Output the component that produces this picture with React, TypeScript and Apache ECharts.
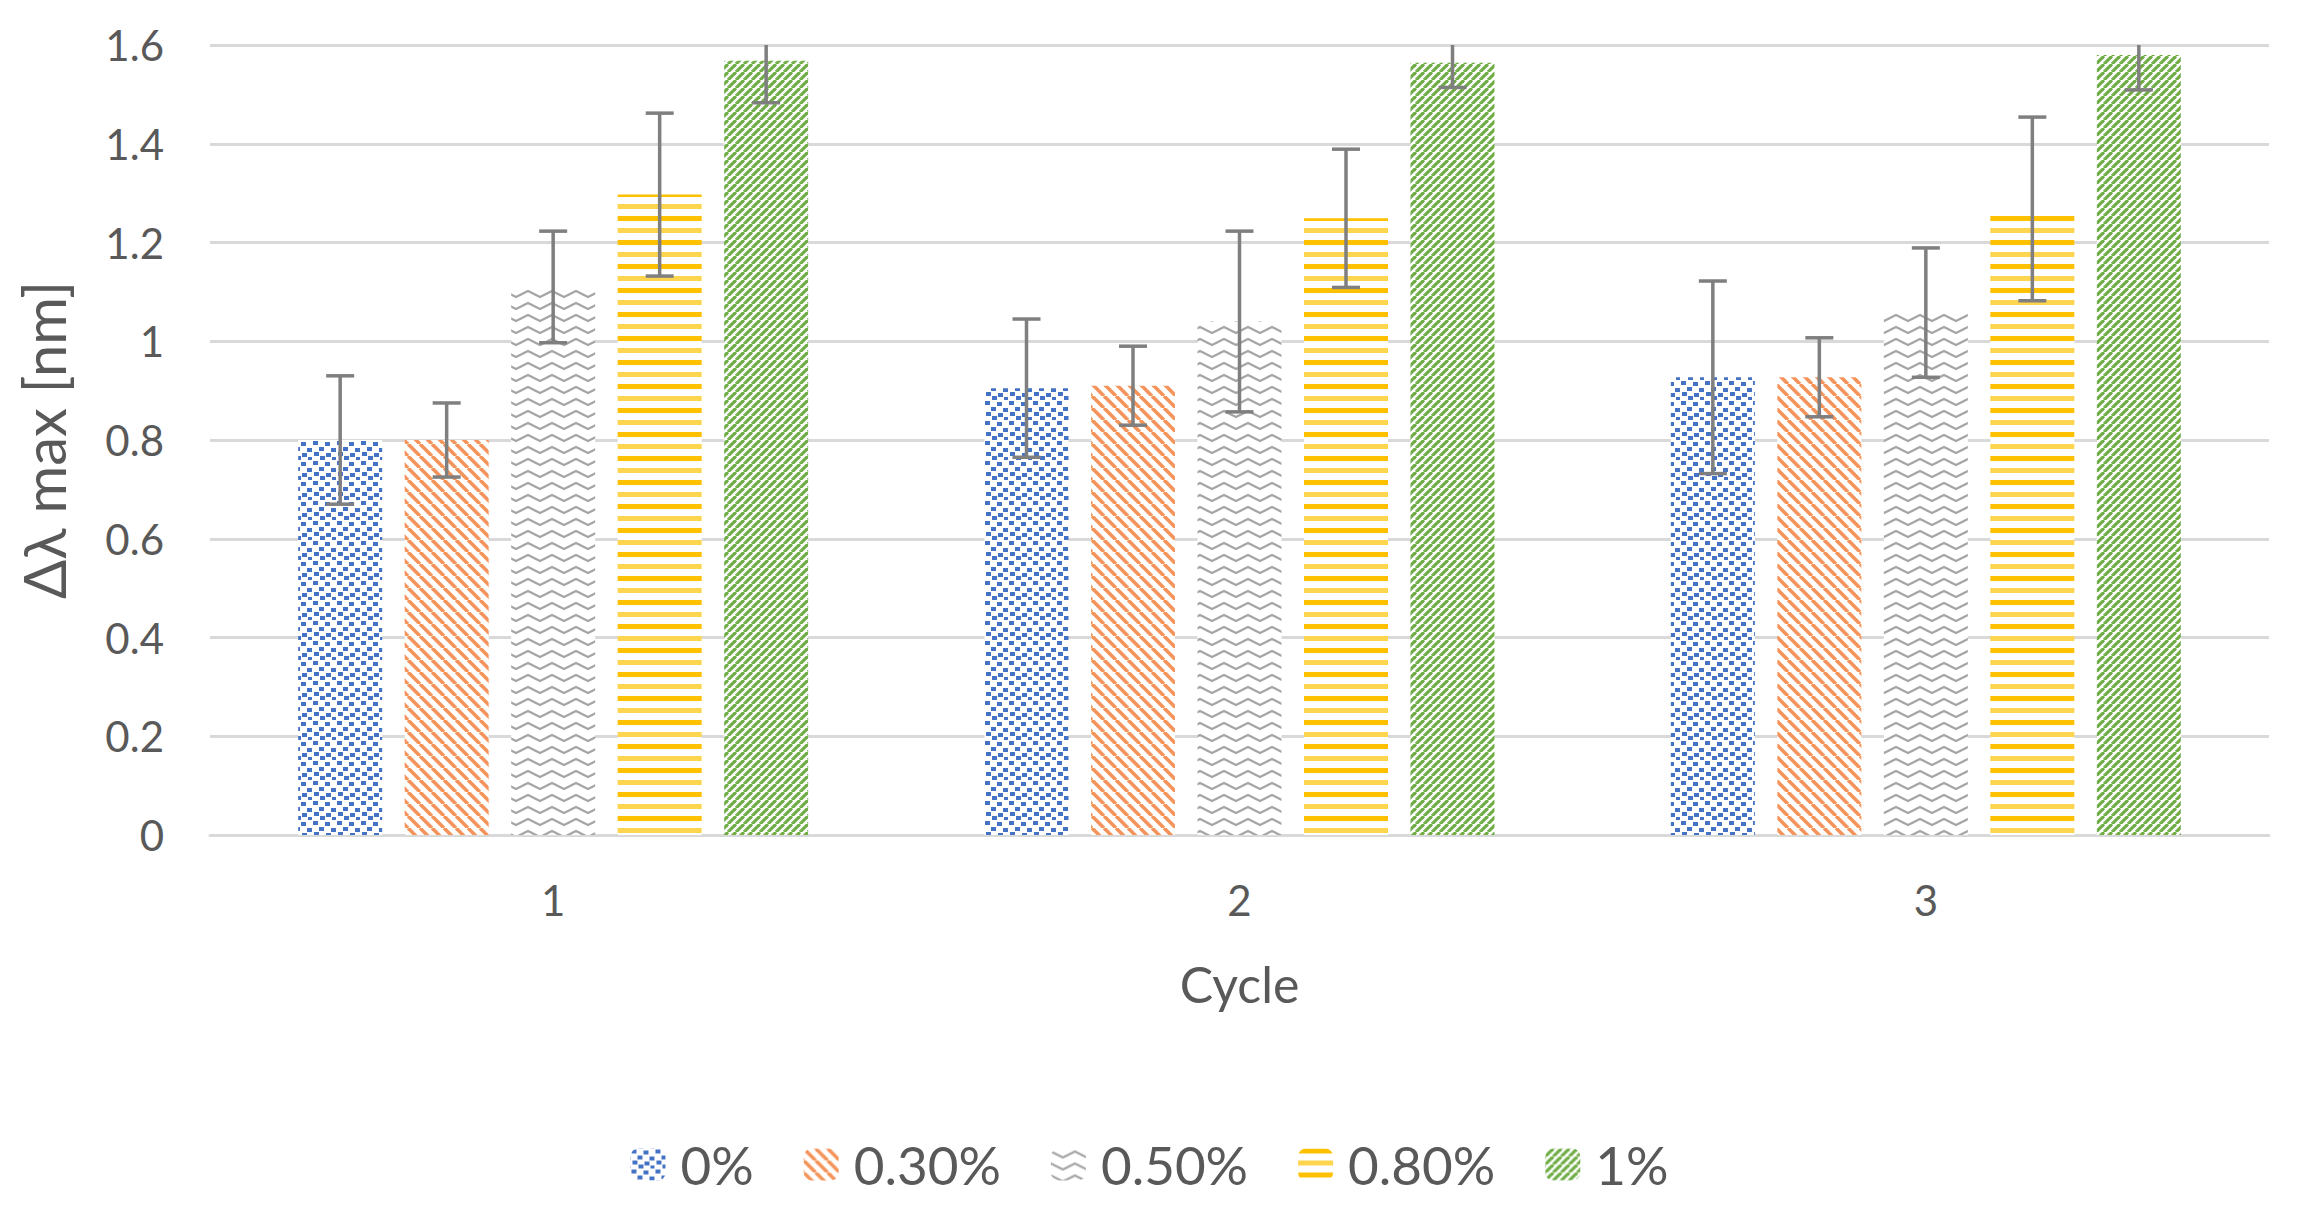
import React, { useEffect, useRef } from "react";
import * as echarts from "echarts";

const categories = ["1", "2", "3"];
const seriesNames = ["0%", "0.30%", "0.50%", "0.80%", "1%"];

const values0 = [0.8, 0.905, 0.927];
const values030 = [0.8, 0.91, 0.927];
const values050 = [1.11, 1.04, 1.058];
const values080 = [1.297, 1.249, 1.268];
const values1 = [1.568, 1.564, 1.58];

const errors0 = [0.13, 0.14, 0.195];
const errors030 = [0.075, 0.08, 0.08];
const errors050 = [0.113, 0.183, 0.131];
const errors080 = [0.165, 0.14, 0.186];
const errors1 = [0.085, 0.05, 0.071];

const Y_MIN = 0;
const Y_MAX = 1.6;
const Y_INTERVAL = 0.2;

const allValues = [values0, values030, values050, values080, values1];
const allErrors = [errors0, errors030, errors050, errors080, errors1];

const BAR_W = 84;
const BAR_GAP_PX = 22.5;
const TEXT = "#595959";
const FONT = "Lato, 'Open Sans', 'DejaVu Sans', sans-serif";

function makeTile(w: number, h: number, draw: (ctx: CanvasRenderingContext2D) => void) {
  const c = document.createElement("canvas");
  c.width = w;
  c.height = h;
  const ctx = c.getContext("2d")!;
  ctx.fillStyle = "#ffffff";
  ctx.fillRect(0, 0, w, h);
  draw(ctx);
  return { image: c, repeat: "repeat", imageWidth: w, imageHeight: h } as any;
}

function makePatterns() {
  const blue = makeTile(24, 20, (ctx) => {
    ctx.fillStyle = "#4472C4";
    const dots = [
      [1, 1], [13, 2], [7, 7], [19, 8], [2, 12], [14, 13], [8, 16], [20, 17],
    ];
    dots.forEach(([x, y]) => ctx.fillRect(x, y, 5, 4));
  });
  const orange = makeTile(12, 12, (ctx) => {
    ctx.strokeStyle = "#F4945A";
    ctx.lineWidth = 3.6;
    for (let k = -1; k <= 1; k++) {
      ctx.beginPath();
      ctx.moveTo(k * 12, 0);
      ctx.lineTo(k * 12 + 12, 12);
      ctx.stroke();
    }
  });
  const gray = makeTile(24, 12, (ctx) => {
    ctx.strokeStyle = "#A5A5A5";
    ctx.lineWidth = 2.4;
    ctx.beginPath();
    ctx.moveTo(-6, 6);
    ctx.lineTo(0, 3);
    ctx.lineTo(12, 9);
    ctx.lineTo(24, 3);
    ctx.lineTo(30, 6);
    ctx.stroke();
  });
  const yellow = makeTile(12, 24, (ctx) => {
    ctx.fillStyle = "#FFC000";
    ctx.fillRect(0, 0, 12, 5);
    ctx.fillStyle = "#FFD44F";
    ctx.fillRect(0, 12, 12, 5);
  });
  const green = makeTile(8, 8, (ctx) => {
    ctx.strokeStyle = "#70AD47";
    ctx.lineWidth = 3.2;
    for (let k = -1; k <= 1; k++) {
      ctx.beginPath();
      ctx.moveTo(k * 8, 8);
      ctx.lineTo(k * 8 + 8, 0);
      ctx.stroke();
    }
  });
  return [blue, orange, gray, yellow, green];
}

export default function App() {
  const ref = useRef<HTMLDivElement>(null);

  useEffect(() => {
    document.body.style.margin = "0";
    document.body.style.overflow = "hidden";
    if (!ref.current) return;
    const chart = echarts.init(ref.current, null, { renderer: "svg" });
    const patterns = makePatterns();

    const barSeries = seriesNames.map((name, i) => ({
      name,
      type: "bar",
      data: allValues[i],
      barWidth: BAR_W,
      barGap: (BAR_GAP_PX / BAR_W) * 100 + "%",
      itemStyle: { color: patterns[i] },
      emphasis: { disabled: true },
      z: 2,
    }));

    const errData: number[][] = [];
    allValues.forEach((vals, si) => {
      vals.forEach((v, ci) => {
        errData.push([ci, si, v, allErrors[si][ci]]);
      });
    });

    const errorSeries = {
      type: "custom",
      name: "err",
      silent: true,
      z: 10,
      clip: true,
      encode: { x: 0, y: 2 },
      data: errData,
      renderItem: (params: any, api: any) => {
        const ci = api.value(0);
        const si = api.value(1);
        const v = api.value(2);
        const e = api.value(3);
        const cx = api.coord([ci, 0])[0] + (si - 2) * (BAR_W + BAR_GAP_PX);
        const topVal = v + e;
        const clipped = topVal > Y_MAX;
        const yTop = api.coord([ci, Math.min(topVal, Y_MAX)])[1];
        const yBot = api.coord([ci, v - e])[1];
        const cap = 14;
        const style = { stroke: "#7F7F7F", lineWidth: 3.5 };
        const children: any[] = [
          { type: "line", shape: { x1: cx, y1: yTop, x2: cx, y2: yBot }, style },
          { type: "line", shape: { x1: cx - cap, y1: yBot, x2: cx + cap, y2: yBot }, style },
        ];
        if (!clipped) {
          children.push({ type: "line", shape: { x1: cx - cap, y1: yTop, x2: cx + cap, y2: yTop }, style });
        }
        return { type: "group", children };
      },
    };

    chart.setOption({
      animation: false,
      backgroundColor: "#ffffff",
      textStyle: { fontFamily: FONT },
      grid: { left: 210, right: 30, top: 45, bottom: 380, outerBoundsMode: "none" },
      legend: {
        data: seriesNames,
        left: "center",
        top: 1138,
        itemWidth: 35,
        itemHeight: 32,
        itemGap: 50,
        padding: 0,
        textStyle: { fontSize: 53, color: TEXT, fontFamily: FONT, padding: [0, 0, 0, 10] },
      },
      xAxis: {
        type: "category",
        data: categories,
        name: "Cycle",
        nameLocation: "middle",
        nameGap: 124,
        nameTextStyle: { fontSize: 50, color: TEXT, fontFamily: FONT },
        axisLine: { lineStyle: { color: "#D9D9D9", width: 3 } },
        axisTick: { show: false },
        axisLabel: { fontSize: 42, color: TEXT, margin: 44, fontFamily: FONT },
      },
      yAxis: {
        type: "value",
        min: Y_MIN,
        max: Y_MAX,
        interval: Y_INTERVAL,
        name: "Δλ max [nm]",
        nameLocation: "middle",
        nameRotate: 90,
        nameGap: 138,
        nameTextStyle: { fontSize: 58, color: TEXT, fontFamily: FONT },
        axisLine: { show: false },
        axisTick: { show: false },
        axisLabel: {
          fontSize: 42,
          color: TEXT,
          margin: 46,
          fontFamily: FONT,
          formatter: (v: number) => String(Math.round(v * 10) / 10),
        },
        splitLine: { lineStyle: { color: "#D9D9D9", width: 3 } },
      },
      series: [...barSeries, errorSeries],
    });

    return () => chart.dispose();
  }, []);

  return <div ref={ref} style={{ width: 2299, height: 1215 }} />;
}
